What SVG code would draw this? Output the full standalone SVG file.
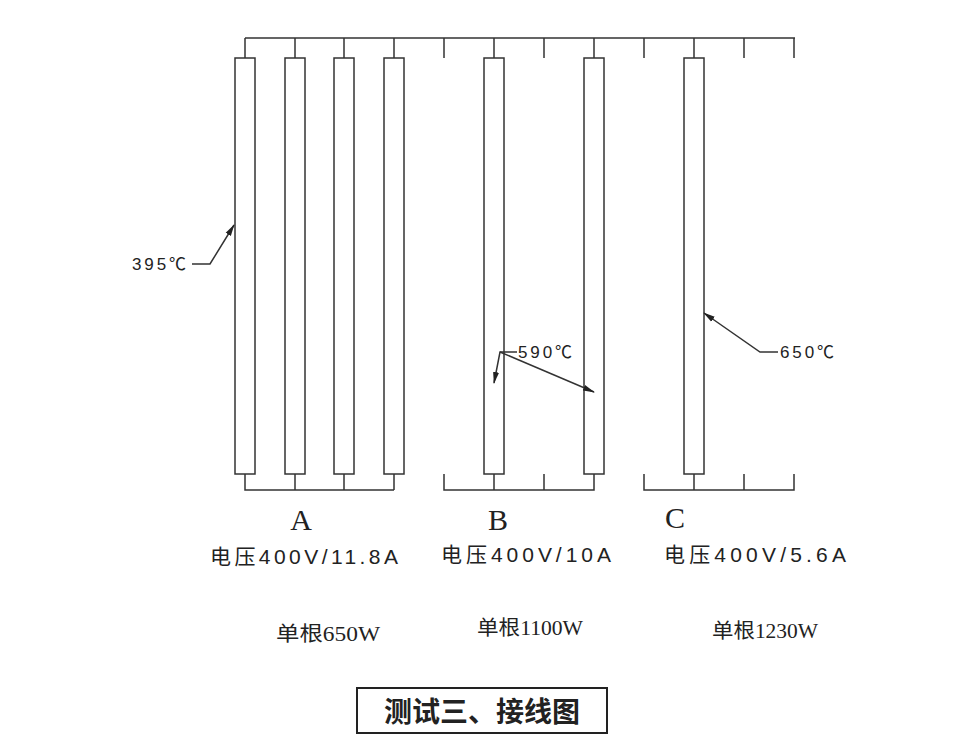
<svg xmlns="http://www.w3.org/2000/svg" width="962" height="751" viewBox="0 0 962 751">
<style>
.w{stroke:#333;stroke-width:1.5;fill:none}
.t{fill:#fff;stroke:#333;stroke-width:1.5}
.c{font-family:"Liberation Sans","Noto Sans CJK SC",sans-serif;font-size:21px;fill:#222}
.s{font-family:"Liberation Serif","Noto Sans CJK SC",serif;fill:#222}
</style>
<defs><marker id="a" markerWidth="12" markerHeight="8" refX="11" refY="4" orient="auto" markerUnits="userSpaceOnUse"><path d="M0,1 L12,4 L0,7 Z" fill="#222"/></marker></defs>
<rect width="962" height="751" fill="#fff"/>
<g id="wiring" class="w">
<path d="M245,38H795M245,38V58M295,38V58M344,38V58M394,38V58M444,38V58M494,38V58M544,38V58M594,38V58M644,38V58M694,38V58M744,38V58M794,38V58"/>
<path d="M245,474V490H394M295,474V490M344,474V490M394,474V490"/>
<path d="M444,474V490H594V474M494,474V490M544,474V490"/>
<path d="M644,474V490H794V474M694,474V490M744,474V490"/>
</g>
<g id="tubes">
<rect id="t1" class="t" x="235" y="58" width="20" height="416"/>
<rect id="t2" class="t" x="285" y="58" width="20" height="416"/>
<rect id="t3" class="t" x="334" y="58" width="20" height="416"/>
<rect id="t4" class="t" x="384" y="58" width="20" height="416"/>
<rect id="t5" class="t" x="484" y="58" width="20" height="416"/>
<rect id="t6" class="t" x="584" y="58" width="20" height="416"/>
<rect id="t7" class="t" x="684" y="58" width="20" height="416"/>
</g>
<g id="connectors" class="w">
<path d="M192,264H210L234,225" marker-end="url(#a)"/>
<path d="M517,352H500L494,383" marker-end="url(#a)"/>
<path d="M500,352L594,392" marker-end="url(#a)"/>
<path d="M778,352H760L704,313" marker-end="url(#a)"/>
</g>
<g id="labels">
<text x="132" y="270" class="c" style="font-size:17px" textLength="54" lengthAdjust="spacing">395℃</text>
<text x="518" y="358" class="c" style="font-size:17px" textLength="54" lengthAdjust="spacing">590℃</text>
<text x="780" y="358" class="c" style="font-size:17px" textLength="54" lengthAdjust="spacing">650℃</text>
<text x="301" y="530" class="s" font-size="30" text-anchor="middle">A</text>
<text x="498" y="530" class="s" font-size="30" text-anchor="middle">B</text>
<text x="675" y="528" class="s" font-size="30" text-anchor="middle">C</text>
<text x="210" y="564" class="c" textLength="188" lengthAdjust="spacing">电压400V/11.8A</text>
<text x="441" y="562" class="c" textLength="170" lengthAdjust="spacing">电压400V/10A</text>
<text x="664" y="562" class="c" textLength="182" lengthAdjust="spacing">电压400V/5.6A</text>
<text x="276" y="641" class="s" font-size="20" textLength="104" lengthAdjust="spacingAndGlyphs">单根650W</text>
<text x="477" y="635" class="s" font-size="20" textLength="106" lengthAdjust="spacingAndGlyphs">单根1100W</text>
<text x="712" y="638" class="s" font-size="20" textLength="106" lengthAdjust="spacingAndGlyphs">单根1230W</text>
</g>
<g id="title">
<rect x="357" y="688" width="250" height="45" fill="#fff" stroke="#222" stroke-width="2"/>
<text x="482" y="722" font-family="Noto Sans CJK SC,sans-serif" font-size="28" font-weight="bold" text-anchor="middle" fill="#222">测试三、接线图</text>
</g>
</svg>
